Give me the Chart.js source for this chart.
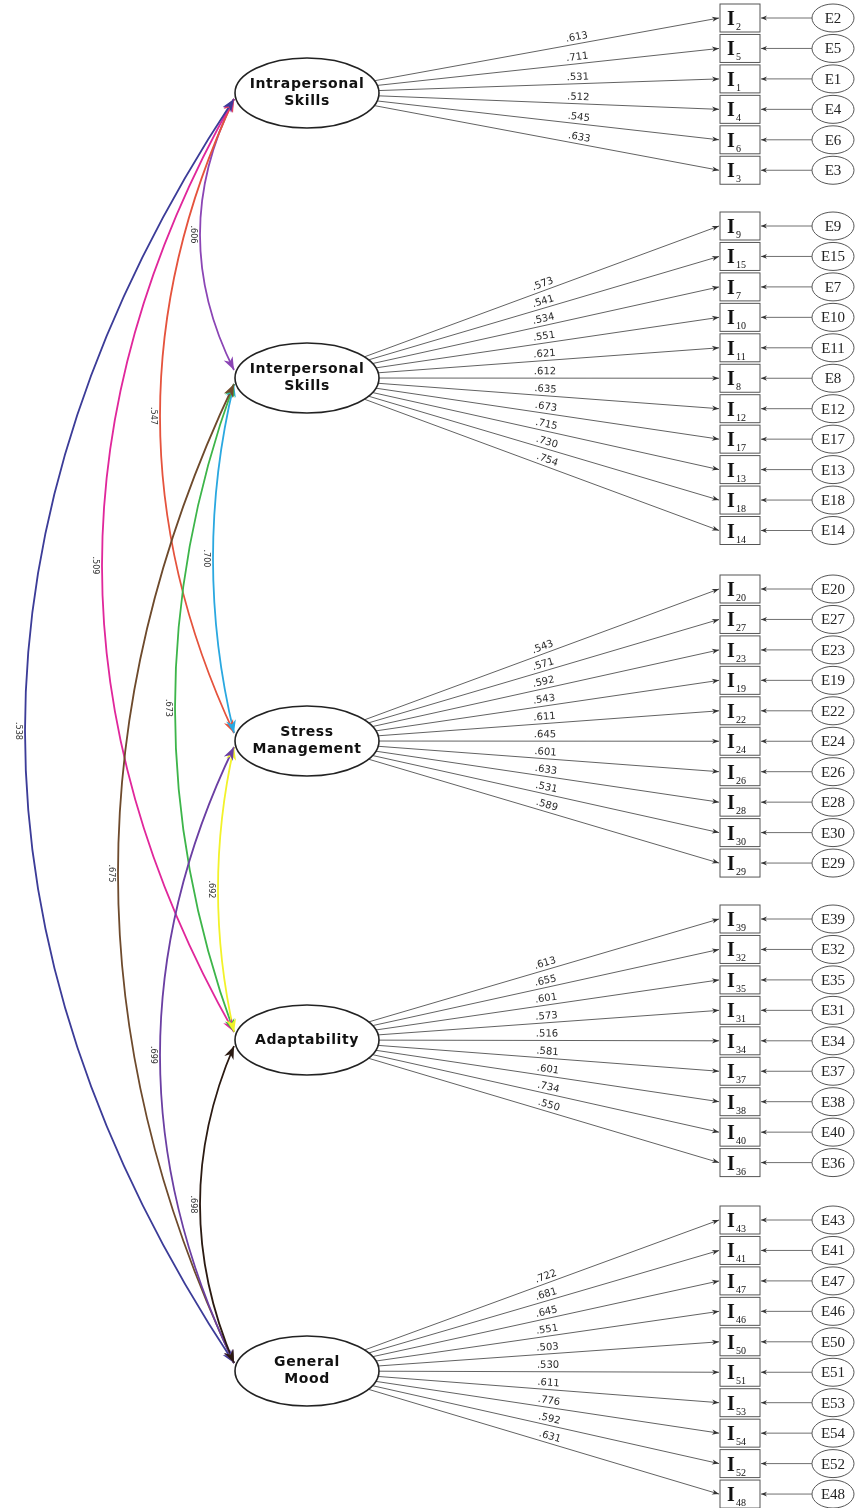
<!DOCTYPE html>
<html>
<head>
<meta charset="utf-8">
<script src="https://cdn.jsdelivr.net/npm/chart.js@4.4.1/dist/chart.umd.min.js"></script>
<style>
  html, body { margin: 0; padding: 0; background: #fff; }
  #wrap { width: 859px; height: 1508px; position: relative; }
</style>
</head>
<body>
<div id="wrap"><canvas id="semChart"></canvas></div>
<script>
// ─── data ─────────────────────────────────────────────
const factorNames = [
  ['Intrapersonal', 'Skills'],
  ['Interpersonal', 'Skills'],
  ['Stress', 'Management'],
  ['Adaptability'],
  ['General', 'Mood']
];

// indicator numbers, listed top to bottom inside each factor group
const intraItems = [2, 5, 1, 4, 6, 3];
const interItems = [9, 15, 7, 10, 11, 8, 12, 17, 13, 18, 14];
const stressItems = [20, 27, 23, 19, 22, 24, 26, 28, 30, 29];
const adaptItems = [39, 32, 35, 31, 34, 37, 38, 40, 36];
const moodItems = [43, 41, 47, 46, 50, 51, 53, 54, 52, 48];

// standardized loadings in the same order
const intraLoadings = ['.613', '.711', '.531', '.512', '.545', '.633'];
const interLoadings = ['.573', '.541', '.534', '.551', '.621', '.612', '.635', '.673', '.715', '.730', '.754'];
const stressLoadings = ['.543', '.571', '.592', '.543', '.611', '.645', '.601', '.633', '.531', '.589'];
const adaptLoadings = ['.613', '.655', '.601', '.573', '.516', '.581', '.601', '.734', '.550'];
const moodLoadings = ['.722', '.681', '.645', '.551', '.503', '.530', '.611', '.776', '.592', '.631'];

// factor correlations (pairs of factor indexes)
const covPairs = [[0, 1], [0, 2], [0, 3], [0, 4], [1, 2], [1, 3], [1, 4], [2, 3], [2, 4], [3, 4]];
const covValues = ['.606', '.547', '.509', '.538', '.700', '.673', '.675', '.692', '.699', '.698'];

// ─── layout / style ───────────────────────────────────
const W = 859, H = 1508;
const factorY = [93, 378, 741, 1040, 1371];
const groupTop = [18, 226, 589, 919, 1220];
const rowStep = 30.45;
const labelX = [578, 545, 545, 547, 548];
const ell = { cx: 307, rx: 72, ry: 35 };
const box = { left: 720, w: 40, h: 28 };
const err = { cx: 833, rx: 21, ry: 14 };
const curveEndX = 234;
const covLeftX = [200, 160, 102, 25, 213, 175, 118, 218, 160, 200];
const covColors = ['#8b45b5', '#e5533d', '#e0279b', '#3c3c98', '#2aa8e0', '#3db54a', '#6e4a2c', '#f2f22a', '#6b3fa3', '#2b1a12'];

const groups = [intraItems, interItems, stressItems, adaptItems, moodItems];
const loadings = [intraLoadings, interLoadings, stressLoadings, adaptLoadings, moodLoadings];

// build the straight paths as line datasets
const loadLines = [];
const errLines = [];
groups.forEach((items, g) => {
  items.forEach((n, i) => {
    const ty = groupTop[g] + i * rowStep;
    const dx = box.left - ell.cx, dy = ty - factorY[g];
    const s = 1 / Math.sqrt((dx / ell.rx) ** 2 + (dy / ell.ry) ** 2);
    loadLines.push({ g, i, n, label: loadings[g][i],
      x0: ell.cx + s * dx, y0: factorY[g] + s * dy, x1: box.left - 1, y1: ty });
    errLines.push({ x0: err.cx - err.rx, y0: ty, x1: box.left + box.w + 1, y1: ty, n });
  });
});

const datasets = [];
loadLines.forEach((l) => datasets.push({
  data: [{ x: l.x0, y: l.y0 }, { x: l.x1, y: l.y1 }],
  showLine: true, borderColor: '#505050', borderWidth: 0.9, pointRadius: 0
}));
errLines.forEach((l) => datasets.push({
  data: [{ x: l.x0, y: l.y0 }, { x: l.x1, y: l.y1 }],
  showLine: true, borderColor: '#606060', borderWidth: 0.9, pointRadius: 0
}));

function arrowHead(ctx, x, y, ang, len, half, color) {
  ctx.save();
  ctx.translate(x, y);
  ctx.rotate(ang);
  ctx.fillStyle = color;
  ctx.beginPath();
  ctx.moveTo(0, 0);
  ctx.lineTo(-len, -half);
  ctx.lineTo(-len * 0.7, 0);
  ctx.lineTo(-len, half);
  ctx.closePath();
  ctx.fill();
  ctx.restore();
}

const diagramPlugin = {
  id: 'semDiagram',
  afterDatasetsDraw(chart) {
    const ctx = chart.ctx;
    const X = (v) => chart.scales.x.getPixelForValue(v);
    const Y = (v) => chart.scales.y.getPixelForValue(v);

    // arrowheads + loading labels
    loadLines.forEach((l) => {
      const x0 = X(l.x0), y0 = Y(l.y0), x1 = X(l.x1), y1 = Y(l.y1);
      const ang = Math.atan2(y1 - y0, x1 - x0);
      arrowHead(ctx, x1, y1, ang, 7, 2.6, '#333');
      const lx = X(labelX[l.g]);
      const t = (lx - x0) / (x1 - x0);
      const ly = y0 + t * (y1 - y0);
      ctx.save();
      ctx.translate(lx, ly);
      ctx.rotate(ang);
      ctx.fillStyle = '#2a2a2a';
      ctx.font = '10px "DejaVu Sans"';
      ctx.textAlign = 'center';
      ctx.textBaseline = 'bottom';
      ctx.fillText(l.label, 0, -1.5);
      ctx.restore();
    });

    // indicator boxes and error terms
    errLines.forEach((l) => {
      const y = Y(l.y0);
      arrowHead(ctx, X(l.x1), y, Math.PI, 6, 2.4, '#333');
      ctx.save();
      ctx.strokeStyle = '#555';
      ctx.lineWidth = 1;
      ctx.fillStyle = '#fff';
      ctx.fillRect(X(box.left), y - box.h / 2, box.w, box.h);
      ctx.strokeRect(X(box.left), y - box.h / 2, box.w, box.h);
      ctx.fillStyle = '#111';
      ctx.textBaseline = 'alphabetic';
      ctx.textAlign = 'left';
      ctx.font = 'bold 20px "Liberation Serif"';
      ctx.fillText('I', X(box.left) + 7, y + 7);
      ctx.font = '10px "Liberation Serif"';
      ctx.fillText(String(l.n), X(box.left) + 16, y + 12);
      ctx.beginPath();
      ctx.ellipse(X(err.cx), y, err.rx, err.ry, 0, 0, Math.PI * 2);
      ctx.fillStyle = '#fff';
      ctx.fill();
      ctx.stroke();
      ctx.fillStyle = '#222';
      ctx.textAlign = 'center';
      ctx.textBaseline = 'middle';
      ctx.font = '15px "Liberation Serif"';
      ctx.fillText('E' + l.n, X(err.cx), y + 1);
      ctx.restore();
    });

    // factor correlation curves
    covPairs.forEach(([a, b], k) => {
      const p0 = { x: X(curveEndX), y: Y(factorY[a] + 6) };
      const p2 = { x: X(curveEndX), y: Y(factorY[b] - 8) };
      const c = { x: X(2 * covLeftX[k] - curveEndX), y: (p0.y + p2.y) / 2 };
      ctx.save();
      ctx.strokeStyle = covColors[k];
      ctx.lineWidth = 1.8;
      ctx.beginPath();
      ctx.moveTo(p0.x, p0.y);
      ctx.quadraticCurveTo(c.x, c.y, p2.x, p2.y);
      ctx.stroke();
      ctx.restore();
    });
    covPairs.forEach(([a, b], k) => {
      const p0 = { x: X(curveEndX), y: Y(factorY[a] + 6) };
      const p2 = { x: X(curveEndX), y: Y(factorY[b] - 8) };
      const c = { x: X(2 * covLeftX[k] - curveEndX), y: (p0.y + p2.y) / 2 };
      arrowHead(ctx, p0.x, p0.y, Math.atan2(p0.y - c.y, p0.x - c.x), 13, 5, covColors[k]);
      arrowHead(ctx, p2.x, p2.y, Math.atan2(p2.y - c.y, p2.x - c.x), 13, 5, covColors[k]);
      const mx = 0.25 * p0.x + 0.5 * c.x + 0.25 * p2.x;
      ctx.save();
      ctx.translate(mx - 2, (p0.y + p2.y) / 2);
      ctx.rotate(Math.PI / 2);
      ctx.fillStyle = '#333';
      ctx.font = '9px "DejaVu Sans Condensed", "DejaVu Sans"';
      ctx.textAlign = 'center';
      ctx.textBaseline = 'top';
      ctx.fillText(covValues[k], 0, 0);
      ctx.restore();
    });

    // latent factor ellipses
    factorNames.forEach((lines, f) => {
      const cx = X(ell.cx), cy = Y(factorY[f]);
      ctx.save();
      ctx.beginPath();
      ctx.ellipse(cx, cy, ell.rx, ell.ry, 0, 0, Math.PI * 2);
      ctx.fillStyle = '#fff';
      ctx.fill();
      ctx.strokeStyle = '#222';
      ctx.lineWidth = 1.6;
      ctx.stroke();
      ctx.fillStyle = '#111';
      ctx.font = 'bold 14px "DejaVu Sans"';
      ctx.letterSpacing = '0.6px';
      ctx.textAlign = 'center';
      ctx.textBaseline = 'middle';
      const start = cy - (lines.length - 1) * 8.5;
      lines.forEach((t, j) => ctx.fillText(t, cx, start + j * 17));
      ctx.restore();
    });
  }
};

new Chart(document.getElementById('semChart'), {
  type: 'scatter',
  data: { datasets },
  options: {
    responsive: true,
    maintainAspectRatio: false,
    animation: false,
    layout: { padding: 0 },
    plugins: { legend: { display: false }, tooltip: { enabled: false } },
    elements: { line: { tension: 0 } },
    scales: {
      x: { type: 'linear', min: 0, max: W, display: false },
      y: { type: 'linear', min: 0, max: H, reverse: true, display: false }
    }
  },
  plugins: [diagramPlugin]
});
</script>
</body>
</html>
